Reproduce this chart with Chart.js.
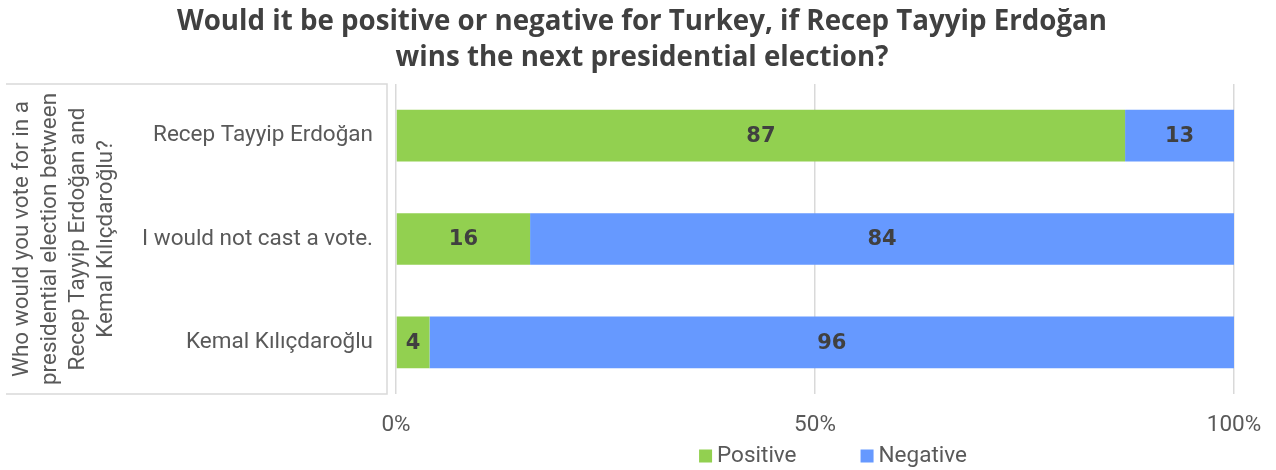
<!DOCTYPE html>
<html>
<head>
<meta charset="utf-8">
<script src="https://cdn.jsdelivr.net/npm/chart.js@4"></script>
<style>
    html, body { margin: 0; padding: 0; background: #fff; }
    #wrap { width: 1276px; height: 470px; }
</style>
</head>
<body>
<div id="wrap"><canvas id="surveyChart"></canvas></div>
<script>
const categories = ['Recep Tayyip Erdoğan', 'I would not cast a vote.', 'Kemal Kılıçdaroğlu'];
const positive = [87, 16, 4];
const negative = [13, 84, 96];
const tickLabels = ['0%', '50%', '100%'];
const seriesNames = ['Positive', 'Negative'];
const titleLines = ['Would it be positive or negative for Turkey, if Recep Tayyip Erdoğan', 'wins the next presidential election?'];
const axisTitle = ['Who would you vote for in a', 'presidential election between', 'Recep Tayyip Erdoğan and', 'Kemal Kılıçdaroğlu?'];

const GREEN = '#92d050';
const BLUE = '#6699ff';
const TEXT = '#595959';
const FONT = 'Roboto, "Liberation Sans", sans-serif';
const SIZE = 22.5;

// numbers in the middle of each bar segment
const barLabels = {
    id: 'barLabels',
    afterDatasetsDraw(chart) {
        const ctx = chart.ctx;
        ctx.save();
        ctx.font = 'bold 21px "DejaVu Sans", sans-serif';
        ctx.fillStyle = '#404040';
        ctx.textAlign = 'center';
        ctx.textBaseline = 'middle';
        chart.data.datasets.forEach((ds, i) => {
            chart.getDatasetMeta(i).data.forEach((bar, j) => {
                ctx.fillText(ds.data[j], (bar.x + bar.base) / 2, bar.y + 1);
            });
        });
        ctx.restore();
    }
};

// thin frame round the category labels, and the title nudged right
const labelFrame = {
    id: 'labelFrame',
    afterLayout(chart) {
        chart.titleBlock.left += 44;
    },
    beforeDraw(chart) {
        const { ctx, chartArea } = chart;
        const l = 6, r = chartArea.left - 9;
        ctx.save();
        ctx.strokeStyle = '#d9d9d9';
        ctx.lineWidth = 1.5;
        ctx.beginPath();
        ctx.moveTo(l, chartArea.top);
        ctx.lineTo(r, chartArea.top);
        ctx.lineTo(r, chartArea.bottom);
        ctx.lineTo(l, chartArea.bottom);
        ctx.stroke();
        ctx.restore();
    }
};

// legend drawn by hand to get the wide gap between items
const bottomLegend = {
    id: 'bottomLegend',
    afterDraw(chart) {
        const { ctx, chartArea } = chart;
        ctx.save();
        ctx.font = SIZE + 'px ' + FONT;
        ctx.textBaseline = 'middle';
        const box = 13, gap = 5, spacing = 64, y = 456;
        const widths = chart.data.datasets.map(ds => box + gap + ctx.measureText(ds.label).width);
        const total = widths.reduce((a, b) => a + b, 0) + spacing * (widths.length - 1);
        let x = (chartArea.left + chartArea.right) / 2 + 18 - total / 2;
        chart.data.datasets.forEach((ds, i) => {
            ctx.fillStyle = ds.backgroundColor;
            ctx.fillRect(x, y - box / 2, box, box);
            ctx.fillStyle = TEXT;
            ctx.fillText(ds.label, x + box + gap, y);
            x += widths[i] + spacing;
        });
        ctx.restore();
    }
};

new Chart(document.getElementById('surveyChart'), {
    type: 'bar',
    data: {
        labels: categories,
        datasets: [
            { label: seriesNames[0], data: positive, backgroundColor: GREEN },
            { label: seriesNames[1], data: negative, backgroundColor: BLUE },
        ],
    },
    options: {
        indexAxis: 'y',
        responsive: true,
        maintainAspectRatio: false,
        animation: false,
        layout: { padding: { left: 6, right: 42, top: 0, bottom: 0 } },
        datasets: { bar: { categoryPercentage: 1, barPercentage: 0.5 } },
        plugins: {
            legend: { display: false },
            tooltip: { enabled: false },
            title: {
                display: true,
                text: titleLines,
                color: '#404040',
                font: { family: '"Open Sans", sans-serif', size: 27.7, weight: 'bold', lineHeight: 1.3 },
                padding: { top: 4, bottom: 8 },
            },
        },
        scales: {
            x: {
                stacked: true,
                min: 0,
                max: 100,
                grid: { color: '#d9d9d9', lineWidth: 1.5, tickLength: 15, tickColor: 'transparent' },
                border: { display: false },
                ticks: {
                    stepSize: 50,
                    padding: 3,
                    color: TEXT,
                    font: { family: FONT, size: SIZE },
                    callback: v => tickLabels[v / 50],
                },
                afterFit: s => { s.height = 76; },
            },
            y: {
                stacked: true,
                grid: { display: false, drawTicks: false },
                border: { display: false },
                ticks: { padding: 23, color: TEXT, font: { family: FONT, size: SIZE } },
                title: {
                    display: true,
                    text: axisTitle,
                    color: TEXT,
                    font: { family: FONT, size: SIZE, lineHeight: 1.244 },
                    padding: { top: 2, bottom: 0 },
                },
                afterFit: s => { s.width = 390; },
            },
        },
    },
    plugins: [barLabels, labelFrame, bottomLegend],
});
</script>
</body>
</html>
